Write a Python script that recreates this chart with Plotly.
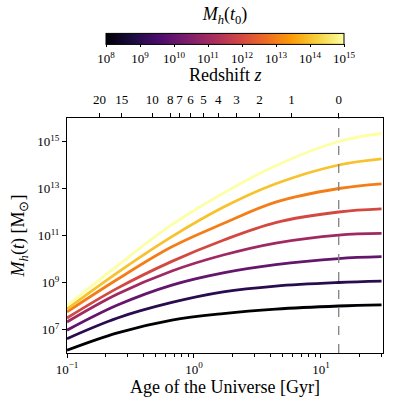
import plotly.graph_objects as go
from plotly.colors import sample_colorscale

# halo mass today, log10 Msun
log_m0 = [8, 9, 10, 11, 12, 13, 14, 15]

# age of the universe [Gyr] where curves were read
age = [0.1, 0.25, 0.67, 1.7, 4.4, 13.8, 30]

# log10 M_h(t) for each curve
log_mh = [
    [6.12, 6.86, 7.40, 7.68, 7.87, 8.00, 8.05],
    [6.61, 7.49, 8.15, 8.60, 8.85, 9.00, 9.06],
    [6.97, 8.04, 8.89, 9.41, 9.76, 10.02, 10.10],
    [7.32, 8.51, 9.49, 10.17, 10.68, 11.02, 11.09],
    [7.49, 8.76, 9.90, 10.80, 11.55, 12.00, 12.13],
    [7.75, 9.14, 10.52, 11.51, 12.42, 13.00, 13.20],
    [7.87, 9.42, 10.95, 12.20, 13.20, 14.00, 14.26],
    [8.01, 9.72, 11.46, 12.80, 13.97, 15.00, 15.34],
]

# redshift ticks on top axis and the ages they sit at
z_ticks = ["20", "15", "10", "8", "7", "6", "5", "4", "3", "2", "1", "0"]
z_ages = [0.18, 0.27, 0.47, 0.65, 0.77, 0.94, 1.19, 1.55, 2.16, 3.28, 5.86, 13.8]

t0 = 13.8

font = "Liberation Serif"
colors = sample_colorscale("Inferno", [(m - 8) / 7 for m in log_m0])

fig = go.Figure()

for m, ys, c in zip(log_m0, log_mh, colors):
    fig.add_trace(go.Scatter(
        x=age, y=[10 ** v for v in ys], mode="lines",
        line=dict(color=c, width=2.8, shape="spline"),
        showlegend=False, hoverinfo="skip",
    ))

# colorbar only
fig.add_trace(go.Scatter(
    x=[None], y=[None], mode="markers", showlegend=False,
    marker=dict(
        color=log_m0, colorscale="Inferno", cmin=8, cmax=15, showscale=True,
        colorbar=dict(
            orientation="h", x=0.5, xanchor="center",
            y=1.216, yanchor="bottom", ypad=0, xpad=0,
            lenmode="pixels", len=238, thickness=11,
            outlinewidth=1, outlinecolor="black",
            tickvals=log_m0, ticktext=[f"10<sup>{m}</sup>" for m in log_m0],
            ticks="outside", ticklen=3, tickcolor="black",
            tickfont=dict(family=font, size=13, color="black"),
            title=dict(text="<i>M<sub>h</sub></i>(<i>t</i><sub>0</sub>)", side="top",
                       font=dict(family=font, size=18, color="black")),
        ),
    ),
))

# dummy trace for the top axis
fig.add_trace(go.Scatter(x=[None], y=[None], xaxis="x2", showlegend=False))

fig.add_vline(x=t0, line=dict(color="gray", width=1.3, dash="dash"))

xr = [-1, 1.4886]

fig.update_layout(
    width=398, height=409,
    margin=dict(l=67, r=15, t=118, b=56, autoexpand=False),
    paper_bgcolor="white", plot_bgcolor="white",
    font=dict(family=font, color="black"),
    xaxis=dict(
        type="log", range=xr, showgrid=False, zeroline=False,
        showline=True, linecolor="black", linewidth=1,
        ticks="outside", ticklen=4, tickcolor="black",
        tickvals=[0.1, 1, 10],
        ticktext=["10<sup>\u22121</sup>", "10<sup>0</sup>", "10<sup>1</sup>"],
        tickfont=dict(size=13),
        minor=dict(ticks="outside", ticklen=2.5, tickcolor="black",
                   tickvals=[0.2, 0.3, 0.4, 0.5, 0.6, 0.7, 0.8, 0.9,
                             2, 3, 4, 5, 6, 7, 8, 9, 20, 30]),
        title=dict(text="Age of the Universe [Gyr]", font=dict(size=18), standoff=8),
    ),
    xaxis2=dict(
        type="log", range=xr, overlaying="x", side="top", anchor="y",
        showgrid=False, zeroline=False,
        showline=True, linecolor="black", linewidth=1,
        ticks="outside", ticklen=4, tickcolor="black",
        tickvals=z_ages, ticktext=z_ticks, tickfont=dict(size=13),
        ticklabelstandoff=4,
    ),
    yaxis=dict(
        type="log", range=[6, 16], showgrid=False, zeroline=False,
        showline=True, mirror=True, linecolor="black", linewidth=1,
        ticks="outside", ticklen=4, tickcolor="black",
        tickvals=[1e7, 1e9, 1e11, 1e13, 1e15],
        ticktext=[f"10<sup>{p}</sup>" for p in [7, 9, 11, 13, 15]],
        tickfont=dict(size=13),
    ),
    annotations=[
        dict(text="Redshift <i>z</i>", xref="paper", yref="paper",
             x=0.5, y=1.183, xanchor="center", yanchor="middle",
             showarrow=False, font=dict(size=18)),
        dict(text="<i>M<sub>h</sub></i>(<i>t</i>) [M<sub>\u2299</sub>]",
             xref="paper", yref="paper", x=-0.149, y=0.5, textangle=-90,
             xanchor="center", yanchor="middle", showarrow=False,
             font=dict(size=18)),
    ],
)

fig.write_html("out.html", config={"displayModeBar": False},
               post_script="document.body.style.margin='0px';")
